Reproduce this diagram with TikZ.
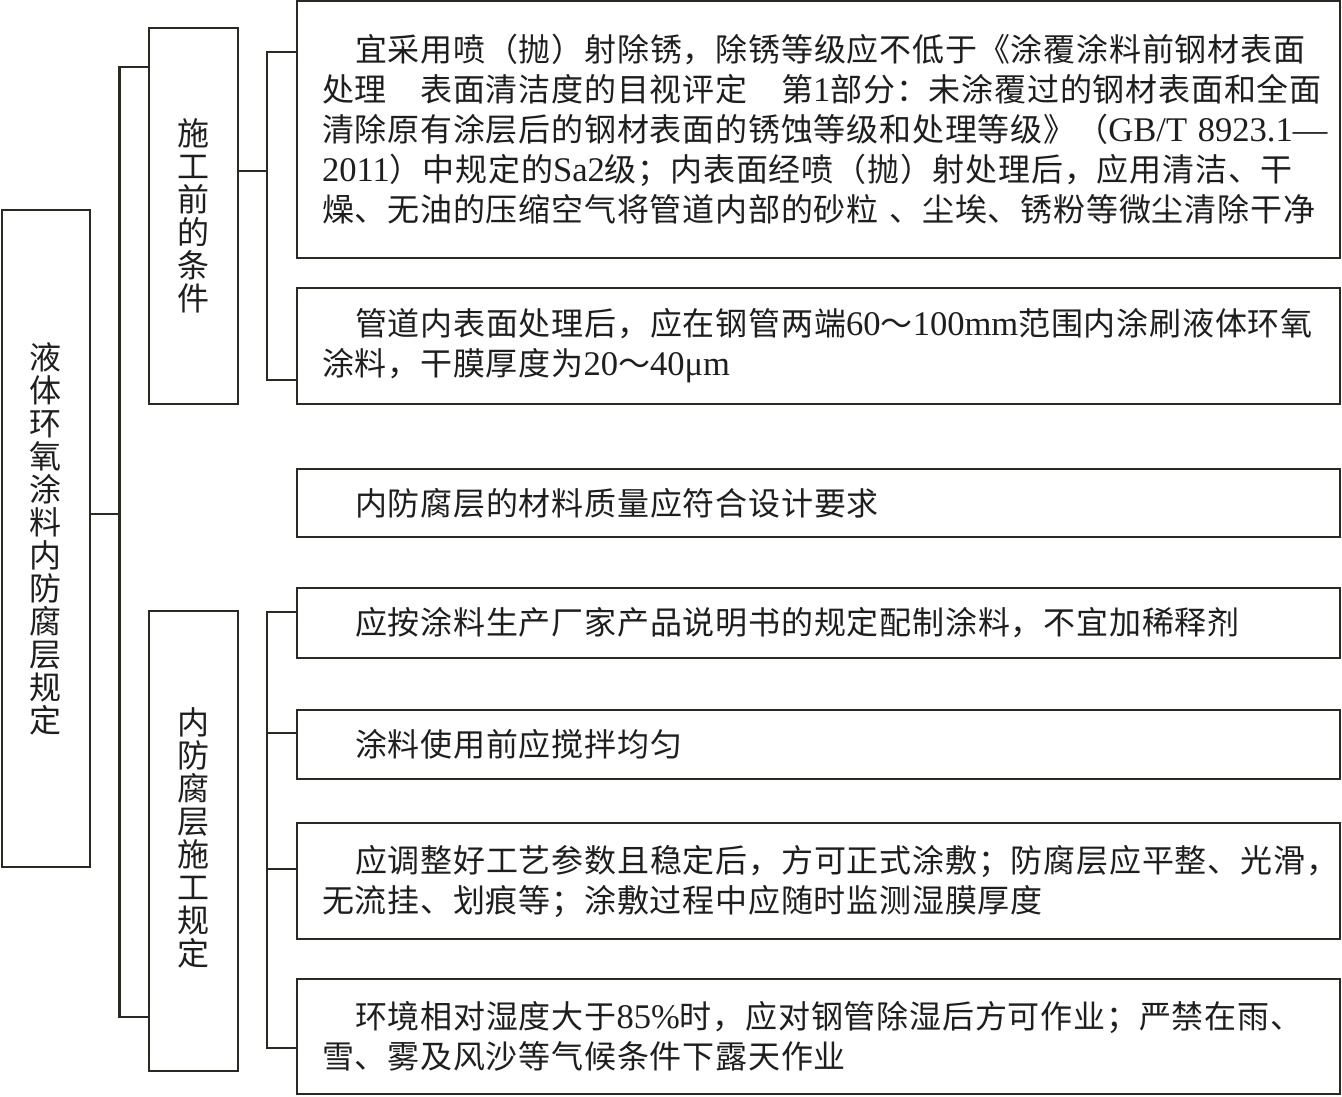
\documentclass[tikz,border=0pt]{standalone}
\usepackage{fontspec}
\setmainfont{Noto Sans CJK SC}[LetterSpace=2.5]
\newfontfamily\latfont{Liberation Serif}[Scale=1.08]
\newcommand\la[1]{{\latfont #1}}
\definecolor{lc}{HTML}{2A2A22}
\definecolor{tc}{HTML}{1E1E1E}
\tikzset{
  conn/.style={draw=lc, line width=2.4pt},
  tbox/.style={draw=lc, line width=2.4pt, minimum width=1043pt, text width=993pt,
    inner xsep=25pt, inner ysep=0pt, align=left, text=tc,
    font=\fontsize{32}{40}\selectfont},
  vbox/.style={draw=lc, line width=2.4pt, inner sep=0pt, align=center, text=tc,
    font=\fontsize{32}{33}\selectfont},
}
\begin{document}
\begin{tikzpicture}[x=1pt,y=-1pt]
\useasboundingbox (0,0) rectangle (1342,1096);
\fill[white] (0,0) rectangle (1342,1096);

% left root box
\node[vbox, minimum width=88pt, minimum height=657pt] (L) at (46,538.5)
  {液\\体\\环\\氧\\涂\\料\\内\\防\\腐\\层\\规\\定};
% second level
\node[vbox, minimum width=89pt, minimum height=376pt] (A) at (193.5,216)
  {施\\工\\前\\的\\条\\件};
\node[vbox, minimum width=89pt, minimum height=460pt] (B) at (193.5,841)
  {\rule{0pt}{0pt}\\[-13pt]内\\防\\腐\\层\\施\\工\\规\\定};

% text boxes
\node[tbox, minimum height=257pt] (b1) at (818.5,129.5)
  {\mbox{\hspace*{33pt}宜采用喷（抛）射除锈，除锈等级应不低于《涂覆涂料前钢材表面}\\
   \mbox{处理　表面清洁度的目视评定　第\la{1}部分：未涂覆过的钢材表面和全面}\\
   \mbox{清除原有涂层后的钢材表面的锈蚀等级和处理等级》（\la{GB/T~8923.1—}}\\
   \mbox{\la{2011}）中规定的\la{Sa2}级；内表面经喷（抛）射处理后，应用清洁、干}\\
   \mbox{燥、无油的压缩空气将管道内部的砂粒~、尘埃、锈粉等微尘清除干净}\\[-4pt]};
\node[tbox, minimum height=116pt] (b2) at (818.5,346)
  {\mbox{\hspace*{33pt}管道内表面处理后，应在钢管两端\la{60}～\la{100mm}范围内涂刷液体环氧}\\
   \mbox{涂料，干膜厚度为\la{20}～\la{40μm}}};
\node[tbox, minimum height=68pt] (m) at (818.5,503)
  {\hspace*{33pt}内防腐层的材料质量应符合设计要求};
\node[tbox, minimum height=70pt] (c1) at (818.5,623)
  {\hspace*{33pt}应按涂料生产厂家产品说明书的规定配制涂料，不宜加稀释剂};
\node[tbox, minimum height=69pt] (c2) at (818.5,744.5)
  {\hspace*{33pt}涂料使用前应搅拌均匀};
\node[tbox, minimum height=116pt] (c3) at (818.5,881)
  {\mbox{\hspace*{33pt}应调整好工艺参数且稳定后，方可正式涂敷；防腐层应平整、光滑，}\\
   \mbox{无流挂、划痕等；涂敷过程中应随时监测湿膜厚度}};
\node[tbox, minimum height=115pt] (c4) at (818.5,1036.5)
  {\mbox{\hspace*{33pt}环境相对湿度大于\la{85\%}时，应对钢管除湿后方可作业；严禁在雨、}\\
   \mbox{雪、雾及风沙等气候条件下露天作业}};

% spine coordinates
\coordinate (s1) at (119.5,67);
\coordinate (s2) at (119.5,1017);
\coordinate (sj) at (119.5,514);
\coordinate (t1) at (267,52);
\coordinate (t2) at (267,380);
\coordinate (ta) at (267,171);
\coordinate (u1) at (267,612);
\coordinate (u2) at (267,733);
\coordinate (u3) at (267,869);
\coordinate (u4) at (267,1048);

% connectors
\draw[conn] (L.east |- sj) -- (sj);
\draw[conn] (A.west |- s1) -- (s1) -- (s2) -- (B.west |- s2);
\draw[conn] (A.east |- ta) -- (ta);
\draw[conn] (b1.west |- t1) -- (t1) -- (t2) -- (b2.west |- t2);
\draw[conn] (c1.west |- u1) -- (u1) -- (u4) -- (c4.west |- u4);
\draw[conn] (u2) -- (c2.west |- u2);
\draw[conn] (u3) -- (c3.west |- u3);
\end{tikzpicture}
\end{document}
